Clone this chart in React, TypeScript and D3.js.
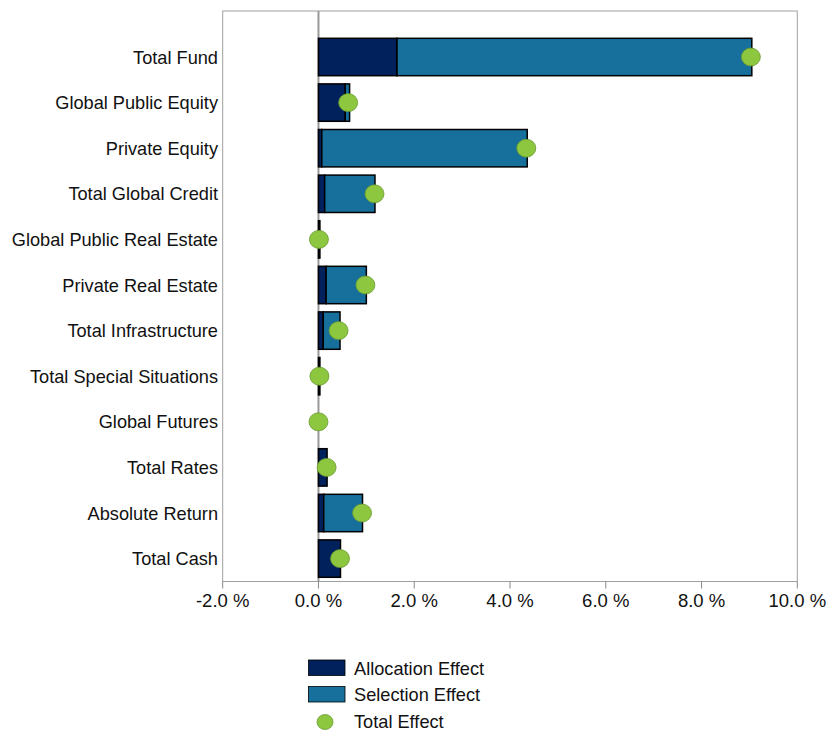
import React from "react";
import * as d3 from "d3";

const categories = [
  "Total Fund",
  "Global Public Equity",
  "Private Equity",
  "Total Global Credit",
  "Global Public Real Estate",
  "Private Real Estate",
  "Total Infrastructure",
  "Total Special Situations",
  "Global Futures",
  "Total Rates",
  "Absolute Return",
  "Total Cash",
];
const allocationEffect = [1.64, 0.56, 0.07, 0.13, 0.03, 0.16, 0.1, 0.03, 0, 0.18, 0.11, 0.46];
const selectionEffect = [7.41, 0.09, 4.29, 1.05, 0, 0.84, 0.35, 0, 0, 0, 0.81, 0];
const totalEffect = [9.03, 0.62, 4.34, 1.17, 0.01, 0.98, 0.42, 0.02, 0.0, 0.17, 0.91, 0.45];
const xTicks = [-2, 0, 2, 4, 6, 8, 10];
const legendLabels = ["Allocation Effect", "Selection Effect", "Total Effect"];

const COL_ALLOC = "#01215c";
const COL_SEL = "#176f9c";
const COL_DOT = "#8dc63f";
const FONT = "'Liberation Sans', Arial, sans-serif";

export default function App() {
  const left = 222.7;
  const right = 797.3;
  const top = 11;
  const bottom = 581.5;

  const x = d3.scaleLinear().domain([-2, 10]).range([left, right]);
  const y = d3
    .scaleBand<string>()
    .domain(categories)
    .range([34.2, 581.4])
    .paddingInner(0.18)
    .paddingOuter(0.09);
  const bw = y.bandwidth();
  const fmt = (t: number) => d3.format(".1f")(t).replace("\u2212", "-") + " %";

  return (
    <svg width={829} height={731} style={{ position: "absolute", left: 0, top: 0, fontFamily: FONT }}>
      <rect x={0} y={0} width={829} height={731} fill="#fff" />
      {/* frame */}
      <rect x={left} y={top} width={right - left} height={bottom - top} fill="none" stroke="#a0a0a0" strokeWidth={1} />
      {/* zero line */}
      <line x1={x(0)} x2={x(0)} y1={top} y2={bottom} stroke="#999" strokeWidth={2} />
      {/* x ticks */}
      {xTicks.map((t) => (
        <g key={t}>
          <line x1={x(t)} x2={x(t)} y1={bottom} y2={bottom + 7} stroke="#888" strokeWidth={1} />
          <text x={x(t)} y={607} fontSize={18.5} textAnchor="middle" fill="#111">
            {fmt(t)}
          </text>
        </g>
      ))}
      {/* bars */}
      {categories.map((c, i) => {
        const a = allocationEffect[i];
        const s = selectionEffect[i];
        const y0 = y(c)!;
        return (
          <g key={c}>
            {a !== 0 && (
              <rect
                x={Math.min(x(0), x(a))}
                y={y0}
                width={Math.abs(x(a) - x(0))}
                height={bw}
                fill={COL_ALLOC}
                stroke="#000"
                strokeWidth={1.5}
              />
            )}
            {s !== 0 && (
              <rect
                x={Math.min(x(a), x(a + s))}
                y={y0}
                width={Math.abs(x(a + s) - x(a))}
                height={bw}
                fill={COL_SEL}
                stroke="#000"
                strokeWidth={1.5}
              />
            )}
          </g>
        );
      })}
      {/* dots */}
      {categories.map((c, i) => (
        <ellipse
          key={c}
          cx={x(totalEffect[i])}
          cy={y(c)! + bw / 2}
          rx={9.5}
          ry={9}
          fill={COL_DOT}
          stroke="#6a9a30"
          strokeWidth={0.8}
        />
      ))}
      {/* category labels */}
      {categories.map((c) => (
        <text key={c} x={218} y={y(c)! + bw / 2} dy="0.36em" fontSize={18.2} textAnchor="end" fill="#111">
          {c}
        </text>
      ))}
      {/* legend */}
      <g>
        <rect x={308.5} y={660} width={36.5} height={15.5} fill={COL_ALLOC} stroke="#000" strokeWidth={0.8} />
        <text x={354} y={668} dy="0.36em" fontSize={18.2} fill="#111">{legendLabels[0]}</text>
        <rect x={308.5} y={686.5} width={36.5} height={15.5} fill={COL_SEL} stroke="#000" strokeWidth={0.8} />
        <text x={354} y={694.5} dy="0.36em" fontSize={18.2} fill="#111">{legendLabels[1]}</text>
        <ellipse cx={325} cy={722} rx={8} ry={7.5} fill={COL_DOT} stroke="#6a9a30" strokeWidth={0.8} />
        <text x={354} y={721} dy="0.36em" fontSize={18.2} fill="#111">{legendLabels[2]}</text>
      </g>
    </svg>
  );
}
